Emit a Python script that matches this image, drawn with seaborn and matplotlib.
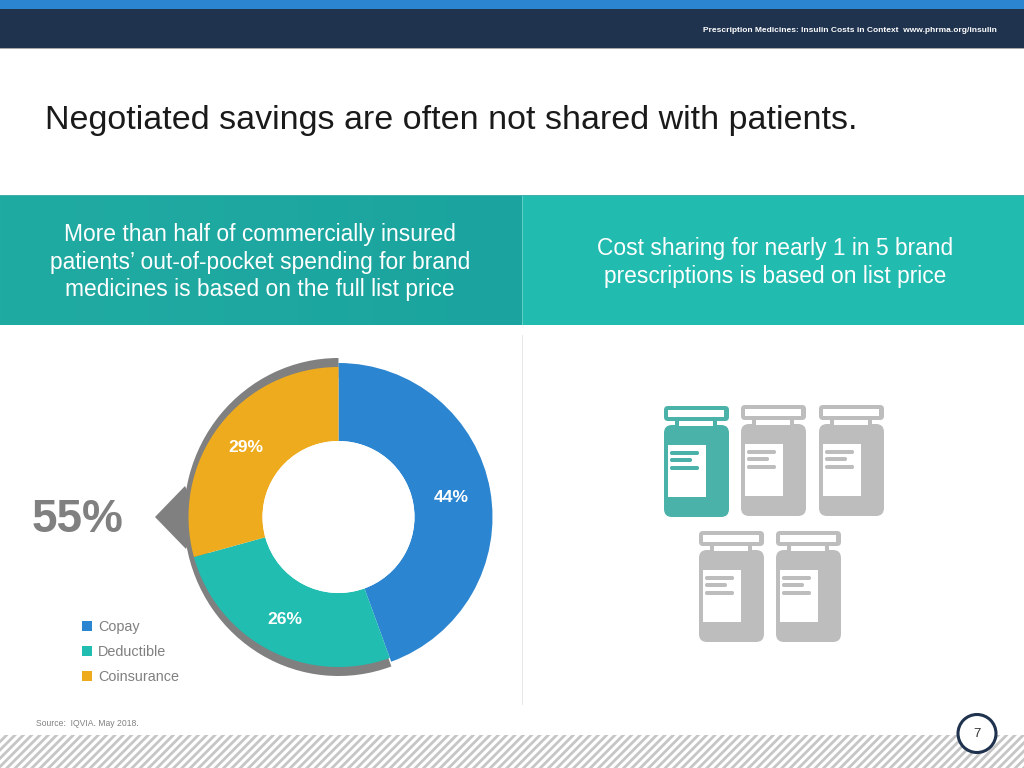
#!/usr/bin/python3

# imports
import matplotlib
matplotlib.use("Agg")
import matplotlib.pyplot as plt
import numpy as np
import seaborn as sns
from matplotlib.patches import Circle, FancyBboxPatch, Patch, Polygon, Rectangle
from matplotlib.transforms import Affine2D

# data
categories = ["Copay", "Deductible", "Coinsurance"]
shares = [44, 26, 29]
share_labels = ["44%", "26%", "29%"]
callout_share = [44, 55]
callout_label = "55%"
title = "Negotiated savings are often not shared with patients."
header = "Prescription Medicines: Insulin Costs in Context  www.phrma.org/insulin"
left_text = ["More than half of commercially insured",
             "patients\u2019 out-of-pocket spending for brand",
             "medicines is based on the full list price"]
right_text = ["Cost sharing for nearly 1 in 5 brand",
              "prescriptions is based on list price"]
source = "Source:  IQVIA. May 2018."
page = "7"

H = 768
colors = sns.color_palette(["#2B85D0", "#20BDB0", "#EEAB1E"])
GREY = "#808080"
BOTTLE_GREY = "#BDBDBD"
BOTTLE_TEAL = "#4AB2A8"
NAVY = "#1F334F"

sns.set_theme(style="white")
plt.rcParams["font.family"] = ["Liberation Sans", "DejaVu Sans"]
plt.rcParams["hatch.linewidth"] = 2.0

fig = plt.figure(figsize=(10.24, 7.68), dpi=100)
ax = fig.add_axes([0, 0, 1, 1])
cx, cy = 338.5, H - 517


def rect(x0, y0, x1, y1, color, z=1, **kw):
    ax.add_patch(Rectangle((x0, H - y1), x1 - x0, y1 - y0, facecolor=color,
                           edgecolor="none", zorder=z, **kw))


def rrect(x0, y0, x1, y1, color, r, z=3):
    ax.add_patch(FancyBboxPatch((x0 + r, H - y1 + r), x1 - x0 - 2 * r, y1 - y0 - 2 * r,
                                boxstyle=f"round,pad={r}", facecolor=color,
                                edgecolor="none", zorder=z))


def bottle(x, y, color):
    # x, y = top left corner of the cap
    rrect(x, y, x + 65, y + 15, color, 4)
    rect(x + 4, y + 4, x + 60, y + 11, "white", 4)
    rect(x + 11, y + 14, x + 53, y + 20, color, 3)
    rect(x + 15, y + 15, x + 49, y + 19.5, "white", 4)
    rrect(x, y + 19, x + 65, y + 111, color, 8)
    rect(x + 4, y + 39, x + 42, y + 91, "white", 4)
    for off, right in zip([47, 54, 62], [35, 28, 35]):
        rrect(x + 6, y + off - 2, x + right, y + off + 2, color, 1.8, z=5)


# header bands
rect(0, 0, 1024, 9, "#2B85D0")
rect(0, 9, 1024, 48, NAVY)
rect(0, 48, 1024, 49, "#A8A8A8")
ax.text(997, H - 30.5, header, color="white", fontsize=6.0, fontweight="bold",
        ha="right", va="center")
ax.text(45, H - 120, title, color="#1A1A1A", fontsize=24.5, ha="left", va="center")

# teal panels
grad = np.linspace(0, 1, 256).reshape(1, -1)
left_cmap = sns.blend_palette(["#20ABA2", "#1BA49F"], as_cmap=True)
ax.imshow(grad, extent=(0, 522, H - 325, H - 195), cmap=left_cmap, aspect="auto", zorder=1)
rect(522, 195, 1024, 325, "#21BBAF")
rect(522, 196, 523, 325, "#5FCFC5", z=2)
rect(0, 195, 1024, 196, "#45AFAC", z=2)
rect(522, 335, 523, 705, "#E8E8E8")
for i, line in enumerate(left_text):
    ax.text(260, H - (234.5 + i * 27.5), line, color="white", fontsize=16.4, ha="center", va="center")
for i, line in enumerate(right_text):
    ax.text(775, H - (249 + i * 27.5), line, color="white", fontsize=16.4, ha="center", va="center")

# callout ring behind the donut, a bit narrower than it is tall
ring, _ = ax.pie(callout_share, radius=159, center=(cx, cy), startangle=90, counterclock=False,
                 colors=["none", GREY], wedgeprops=dict(width=20, linewidth=0), frame=True)
squeeze = Affine2D().translate(-cx, 0).scale(0.972, 1).translate(cx, 0)
for w in ring:
    w.set_transform(squeeze + ax.transData)
ax.add_patch(Polygon([(155, H - 517), (185, H - 486), (200, H - 517), (186, H - 549)],
                     closed=True, facecolor=GREY, edgecolor="none", zorder=1.5))

# donut
wedges, _ = ax.pie(shares, radius=150, center=(cx, cy), startangle=90, counterclock=False,
                   colors=colors, wedgeprops=dict(width=74, linewidth=0), frame=True)
wedges[0].set_radius(154)
wedges[0].set_width(78)
for w in wedges:
    w.set_zorder(2)
ax.add_patch(Circle((cx, cy), 76, facecolor="white", edgecolor="none", zorder=2.5))

label_pos = [(451, 497), (285, 619.5), (246, 447.5)]
for (lx, ly), s in zip(label_pos, share_labels):
    ax.text(lx, H - ly, s, color="white", fontsize=12.6, fontweight="bold",
            ha="center", va="center", zorder=3)
ax.text(78, H - 520, callout_label, color=GREY, fontsize=33, fontweight="bold",
        ha="center", va="center")

# legend
handles = [Patch(facecolor=c, edgecolor="none") for c in colors]
ax.legend(handles, categories, loc="upper left", bbox_to_anchor=(78 / 1024, 1 - 616 / H),
          frameon=False, fontsize=10.4, labelcolor=GREY, handlelength=0.7, handleheight=0.7,
          handletextpad=0.4, labelspacing=0.76, borderpad=0.3, borderaxespad=0)

# bottles
for i, (bx, by) in enumerate([(664, 406), (741, 405), (819, 405), (699, 531), (776, 531)]):
    bottle(bx, by, BOTTLE_TEAL if i == 0 else BOTTLE_GREY)

# footer
ax.text(36, H - 724, source, color=GREY, fontsize=6.2, ha="left", va="center")
ax.add_patch(Rectangle((0, 0), 1024, H - 734.5, facecolor="white", edgecolor="#C6C6C6",
                       hatch="////", linewidth=0, zorder=1))
ax.add_patch(Circle((977, H - 733.5), 19, facecolor="white", edgecolor=NAVY, linewidth=2.2, zorder=4))
ax.text(977, H - 734, page, color="#333333", fontsize=9.5, ha="center", va="center", zorder=5)

ax.set_xlim(0, 1024)
ax.set_ylim(0, H)
ax.set_aspect("auto")
ax.set_axis_off()
sns.despine(ax=ax, left=True, bottom=True)
fig.savefig("out.png", dpi=100)
